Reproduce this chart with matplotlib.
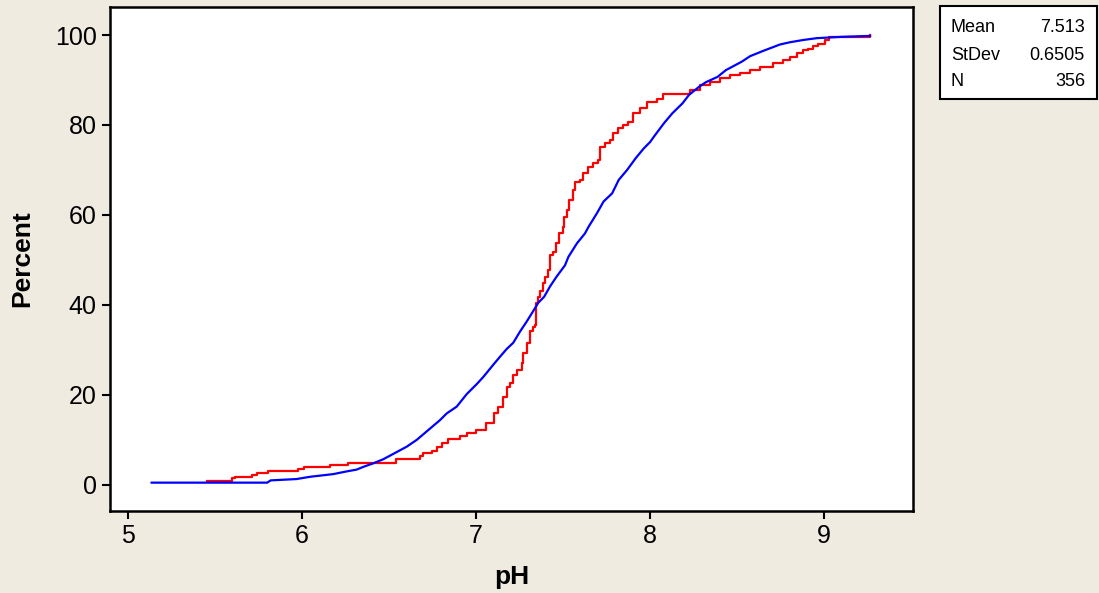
import matplotlib
matplotlib.use("Agg")
import matplotlib.pyplot as plt
from matplotlib.patches import Rectangle

plt.rcParams['font.family'] = ['Liberation Sans', 'DejaVu Sans']

# empirical CDF (red steps): pH where each step starts, percent level after it
red_ph = [5.456, 5.596, 5.615, 5.711, 5.740, 5.806, 5.979, 6.011, 6.161, 6.266,
          6.540, 6.678, 6.695, 6.747, 6.776, 6.805, 6.839, 6.908, 6.948, 7.000,
          7.057, 7.103, 7.126, 7.155, 7.176, 7.195, 7.214, 7.234, 7.263, 7.272,
          7.291, 7.310, 7.326, 7.339, 7.345, 7.358, 7.368, 7.383, 7.397, 7.412,
          7.425, 7.444, 7.460, 7.479, 7.498, 7.506, 7.521, 7.536, 7.559, 7.569,
          7.598, 7.617, 7.645, 7.674, 7.703, 7.713, 7.741, 7.770, 7.789, 7.818,
          7.847, 7.875, 7.904, 7.943, 7.981, 8.038, 8.076, 8.230, 8.287, 8.345,
          8.402, 8.460, 8.517, 8.575, 8.632, 8.709, 8.766, 8.805, 8.845, 8.879,
          8.908, 8.939, 8.967, 9.006, 9.029, 9.264]
red_pct = [0.96, 1.49, 1.84, 2.22, 2.73, 3.18, 3.56, 4.0, 4.44, 4.96,
           5.78, 6.44, 7.04, 7.62, 8.51, 9.40, 10.2, 10.9, 11.5, 12.2,
           13.8, 15.9, 17.4, 19.6, 21.8, 22.6, 24.4, 25.6, 27.0, 29.3,
           31.5, 34.1, 35.2, 35.6, 40.4, 41.8, 43.0, 44.8, 46.3, 47.8,
           51.1, 51.8, 53.7, 55.9, 57.4, 59.6, 61.1, 63.3, 65.6, 67.4,
           67.8, 69.3, 70.7, 71.5, 72.2, 75.2, 75.9, 76.7, 78.2, 79.3,
           80.0, 80.7, 82.6, 83.7, 85.0, 85.7, 86.8, 87.8, 88.9, 89.6,
           90.4, 91.1, 91.6, 92.2, 93.0, 93.7, 94.4, 95.2, 96.0, 96.7,
           97.0, 97.6, 98.1, 98.9, 99.6, 100.0]

# fitted normal CDF (blue)
blue_ph = [5.136, 5.800, 5.820, 5.969, 6.046, 6.180, 6.257, 6.314, 6.352, 6.410,
           6.467, 6.525, 6.602, 6.659, 6.726, 6.793, 6.832, 6.889, 6.947, 7.004,
           7.042, 7.099, 7.138, 7.176, 7.214, 7.253, 7.291, 7.320, 7.358, 7.391,
           7.425, 7.463, 7.511, 7.531, 7.580, 7.626, 7.647, 7.695, 7.733, 7.782,
           7.820, 7.868, 7.917, 7.964, 8.000, 8.022, 8.080, 8.128, 8.186, 8.224,
           8.282, 8.320, 8.388, 8.436, 8.528, 8.575, 8.652, 8.747, 8.805, 8.881,
           8.958, 9.103, 9.264]
blue_pct = [0.5, 0.5, 1.0, 1.3, 1.8, 2.4, 3.0, 3.4, 4.0, 4.8,
            5.7, 6.9, 8.5, 10.0, 12.2, 14.4, 15.9, 17.4, 20.2, 22.4,
            24.0, 26.7, 28.5, 30.2, 31.6, 34.1, 36.3, 38.1, 40.5, 41.8,
            44.1, 46.3, 48.8, 50.7, 53.7, 55.9, 57.4, 60.4, 63.0, 64.8,
            67.8, 70.0, 72.6, 74.8, 76.2, 77.4, 80.4, 82.6, 84.8, 86.7,
            88.5, 89.5, 90.7, 92.2, 94.1, 95.3, 96.5, 97.9, 98.4, 98.9,
            99.3, 99.6, 99.8]

stat_names = ["Mean", "StDev", "N"]
stat_values = ["7.513", "0.6505", "356"]

bg = "#EFEBE1"
fig = plt.figure(figsize=(10.99, 5.93), dpi=100, facecolor=bg)
ax = fig.add_axes([0.1001, 0.1383, 0.7307, 0.8497])
ax.set_facecolor("white")

ax.step(red_ph, red_pct, where="post", color="#FF0000", lw=1.6)
ax.plot(blue_ph, blue_pct, color="#0000FF", lw=1.6)

ax.set_xlim(4.897, 9.511)
ax.set_ylim(-5.8, 106.2)
ax.set_xticks([5, 6, 7, 8, 9])
ax.set_yticks([0, 20, 40, 60, 80, 100])
ax.tick_params(direction="out", length=6, width=1.5, labelsize=18, pad=3.5)
for s in ax.spines.values():
    s.set_linewidth(1.8)
    s.set_color("black")

ax.set_xlabel("pH", fontsize=19, fontweight="bold")
ax.set_ylabel("Percent", fontsize=19, fontweight="bold")
ax.xaxis.set_label_coords(0.5, -66 / 504)
ax.xaxis.label.set_va("center")
ax.yaxis.set_label_coords(-88 / 803, 0.5)
ax.yaxis.label.set_va("center")

# stats box at top right
W, H = 1099, 593
fig.patches.append(Rectangle((940 / W, 1 - 99 / H), 157 / W, 93 / H,
                             transform=fig.transFigure, facecolor="white",
                             edgecolor="black", lw=1.5))
for i, (n, v) in enumerate(zip(stat_names, stat_values)):
    yy = 1 - (28 + 27 * i) / H
    fig.text(951 / W, yy, n, fontsize=13, va="center", ha="left")
    fig.text(1085 / W, yy, v, fontsize=13, va="center", ha="right")

fig.savefig("out.png", dpi=100, facecolor=bg)
